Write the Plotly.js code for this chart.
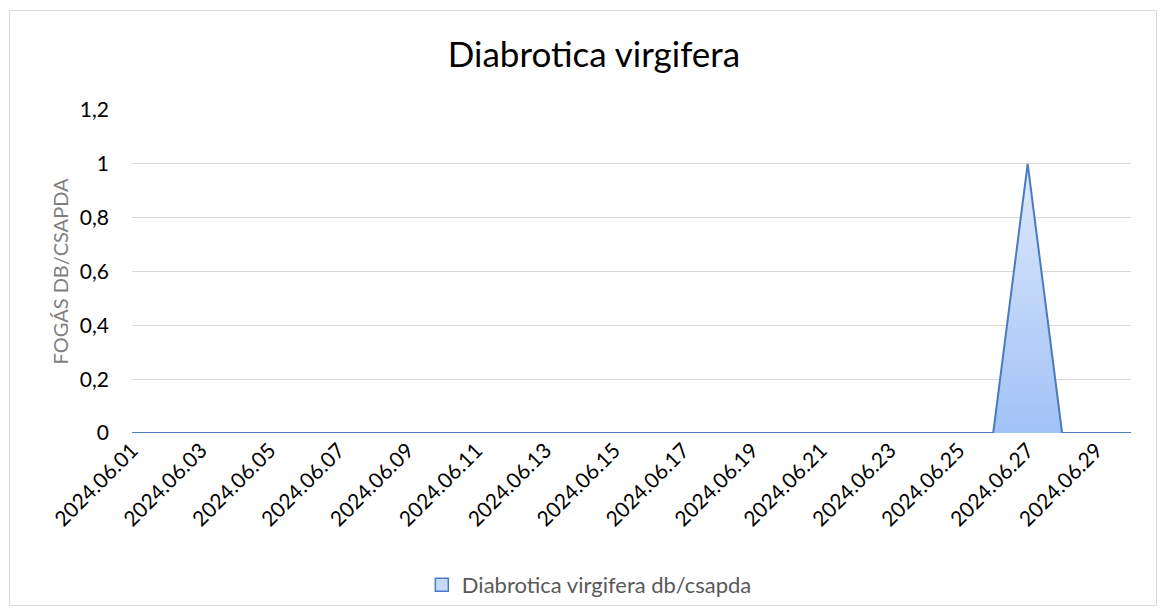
<!DOCTYPE html>
<html>
<head>
<meta charset="utf-8">
<script src="https://cdn.plot.ly/plotly-3.0.1.min.js"></script>
<style>
html,body{margin:0;padding:0;background:#fff;}
#wrap{position:relative;width:1167px;height:616px;}
#chart{width:1167px;height:616px;}
#frame{position:absolute;left:9px;top:10px;width:1148px;height:596px;border:1px solid #d9d9d9;pointer-events:none;box-sizing:border-box;}
</style>
</head>
<body>
<div id="wrap"><div id="chart"></div><div id="frame"></div></div>
<script>
const dates = ["2024.06.01","2024.06.02","2024.06.03","2024.06.04","2024.06.05","2024.06.06","2024.06.07","2024.06.08","2024.06.09","2024.06.10",
"2024.06.11","2024.06.12","2024.06.13","2024.06.14","2024.06.15","2024.06.16","2024.06.17","2024.06.18","2024.06.19","2024.06.20",
"2024.06.21","2024.06.22","2024.06.23","2024.06.24","2024.06.25","2024.06.26","2024.06.27","2024.06.28","2024.06.29","2024.06.30"];
const catches = [0,0,0,0,0,0,0,0,0,0,0,0,0,0,0,0,0,0,0,0,0,0,0,0,0,0,1,0,0,0];
const tickLabels = dates.filter((d,i)=>i%2===0);
const seriesName = "Diabrotica virgifera db/csapda";
const chartTitle = "Diabrotica virgifera";
const yTitle = "FOGÁS DB/CSAPDA";

const font = "Lato, 'Open Sans', sans-serif";
Plotly.newPlot("chart", [{
  type: "scatter",
  mode: "lines",
  x: dates,
  y: catches,
  name: seriesName,
  fill: "tozeroy",
  fillgradient: {type: "vertical", colorscale: [[0, "#a1c2f7"], [1, "#dfe9fb"]]},
  line: {color: "#4a7bc0", width: 2},
  showlegend: false
}, {
  type: "scatter",
  mode: "markers",
  x: [null], y: [null],
  name: seriesName,
  marker: {symbol: "square", size: 13, color: "#c6daf9", line: {color: "#4a7bc0", width: 1.5}},
  showlegend: true, hoverinfo: "skip"
}], {
  width: 1167, height: 616,
  margin: {l: 132, r: 36, t: 110, b: 183},
  paper_bgcolor: "#fff", plot_bgcolor: "#fff",
  separators: ",.",
  font: {family: font, color: "#000"},
  title: {text: chartTitle, font: {family: font, size: 35, color: "#000"}, x: 594/1167, xref: "container", xanchor: "center", y: 1 - 55/616, yref: "container", yanchor: "middle"},
  xaxis: {
    type: "category", range: [0, 29], tickmode: "array", tickvals: tickLabels, ticktext: tickLabels,
    tickangle: -45, tickfont: {size: 21, family: font, color: "#000"},
    showgrid: false, zeroline: false, showline: false, ticks: "", ticklen: 0
  },
  yaxis: {
    range: [0, 1.2], dtick: 0.2, tick0: 0, tickfont: {size: 21, family: font, color: "#000"},
    gridcolor: "#d9d9d9", gridwidth: 1.3, zeroline: false, showline: false, ticks: "",
    ticklabelstandoff: 22,
    title: {text: yTitle, font: {size: 20, family: font, color: "#7f7f7f"}, standoff: 5}
  },
  legend: {orientation: "h", x: 0.505, xref: "container", xanchor: "center", y: 1 - 585/616, yref: "container", yanchor: "middle",
    font: {size: 22, family: font, color: "#595959"}, itemwidth: 30}
}, {displayModeBar: false});
</script>
</body>
</html>
